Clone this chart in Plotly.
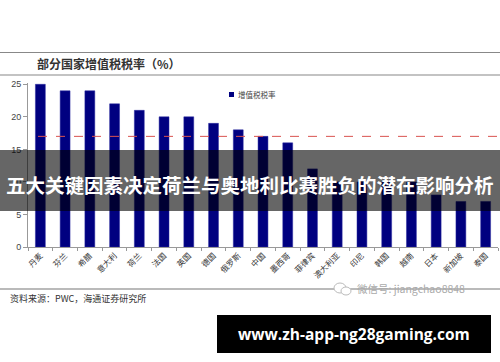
import plotly.graph_objects as go

categories = ["丹麦", "芬兰", "希腊", "意大利", "荷兰", "法国", "英国", "德国", "俄罗斯", "中国",
              "墨西哥", "菲律宾", "澳大利亚", "印尼", "韩国", "越南", "日本", "新加坡", "泰国"]
vat_rates = [25, 24, 24, 22, 21, 20, 20, 19, 18, 17, 16, 12, 10, 10, 10, 10, 8, 7, 7]
reference_rate = 17
y_ticks = [0, 5, 10, 15, 20, 25]

W, H = 500, 362
L, R, T, B = 28, 2, 83, 115
PW = W - L - R
PH = H - T - B


def px(x):
    return (x - L) / PW


def py(y):
    return (H - B - y) / PH


FONT = "Noto Sans CJK SC"

fig = go.Figure()
fig.add_trace(go.Bar(
    x=categories, y=vat_rates, name="增值税税率",
    marker=dict(color="#000080", line=dict(color="#2a2aa0", width=0.5)),
    width=0.4,
))

fig.update_layout(
    width=W, height=H,
    margin=dict(l=L, r=R, t=T, b=B, autoexpand=False),
    paper_bgcolor="white", plot_bgcolor="white",
    font=dict(family=FONT, color="#333"),
    showlegend=False,
    bargap=0.6,
    xaxis=dict(
        type="category", showline=True, linecolor="#999", linewidth=1, automargin=False,
        ticks="outside", tickson="boundaries", ticklen=3, tickcolor="#999",
        tickangle=-45, tickfont=dict(size=8, color="#333", family=FONT),
        showgrid=False, zeroline=False, fixedrange=True,
    ),
    yaxis=dict(
        range=[0, 25.2], tickvals=y_ticks, showline=True, linecolor="#999", linewidth=1,
        automargin=False,
        ticks="outside", ticklen=4, tickcolor="#999",
        tickfont=dict(size=9, color="#444", family="Liberation Sans"),
        showgrid=False, zeroline=False, fixedrange=True,
    ),
)

shapes = []
# reference dashed line
shapes.append(dict(type="line", xref="paper", yref="y", x0=px(38), x1=px(500),
                   y0=reference_rate, y1=reference_rate,
                   line=dict(color="#D9534F", width=1, dash="dash")))
# top rules
for yy in (52.5, 75):
    shapes.append(dict(type="line", xref="paper", yref="paper", x0=px(0), x1=px(500),
                       y0=py(yy), y1=py(yy), line=dict(color="#888", width=1.2)))
# bottom rule
shapes.append(dict(type="line", xref="paper", yref="paper", x0=px(0), x1=px(500),
                   y0=py(289), y1=py(289), line=dict(color="#777", width=1.2)))
# legend marker
shapes.append(dict(type="rect", xref="paper", yref="paper", x0=px(229), x1=px(234),
                   y0=py(97), y1=py(92), fillcolor="#000080", line=dict(width=0)))
# banner overlay
shapes.append(dict(type="rect", xref="paper", yref="paper", x0=px(0), x1=px(500),
                   y0=py(211), y1=py(150), fillcolor="rgba(0,0,0,0.6)", line=dict(width=0),
                   layer="above"))
# bottom black box
shapes.append(dict(type="rect", xref="paper", yref="paper", x0=px(217), x1=px(491),
                   y0=py(353), y1=py(315), fillcolor="black", line=dict(width=0)))
# wechat icon (approx)
shapes.append(dict(type="circle", xref="paper", yref="paper", x0=px(334), x1=px(346),
                   y0=py(293), y1=py(283), line=dict(color="#bbb", width=1), fillcolor="white"))
shapes.append(dict(type="circle", xref="paper", yref="paper", x0=px(341), x1=px(351),
                   y0=py(295), y1=py(287), line=dict(color="#bbb", width=1), fillcolor="white"))
fig.update_layout(shapes=shapes)

ann = []
ann.append(dict(text="<b>部分国家增值税税率（%）</b>", xref="paper", yref="paper", x=px(35), y=py(64),
                xanchor="left", yanchor="middle", showarrow=False,
                font=dict(size=12, color="#333", family=FONT)))
ann.append(dict(text="增值税税率", xref="paper", yref="paper", x=px(236), y=py(94.5),
                xanchor="left", yanchor="middle", showarrow=False,
                font=dict(size=7.5, color="#444", family=FONT)))
ann.append(dict(text="资料来源：PWC，海通证券研究所", xref="paper", yref="paper", x=px(8), y=py(298),
                xanchor="left", yanchor="middle", showarrow=False,
                font=dict(size=9, color="#333", family=FONT)))
ann.append(dict(text="微信号: jiangchao8848", xref="paper", yref="paper", x=px(355), y=py(288),
                xanchor="left", yanchor="middle", showarrow=False,
                font=dict(size=10.5, color="#aaa", family=FONT)))
ann.append(dict(text="<b>五大关键因素决定荷兰与奥地利比赛胜负的潜在影响分析</b>", xref="paper", yref="paper",
                x=px(250), y=py(184), xanchor="center", yanchor="middle", showarrow=False,
                font=dict(size=19.5, color="white", family=FONT)))
ann.append(dict(text="<b>www.zh-app-ng28gaming.com</b>", xref="paper", yref="paper",
                x=px(354), y=py(334), xanchor="center", yanchor="middle", showarrow=False,
                font=dict(size=15.5, color="white", family="Open Sans")))
fig.update_layout(annotations=ann)

fig.write_html("out.html", config={"displayModeBar": False},
               post_script="document.body.style.margin='0';document.body.style.overflow='hidden';")
